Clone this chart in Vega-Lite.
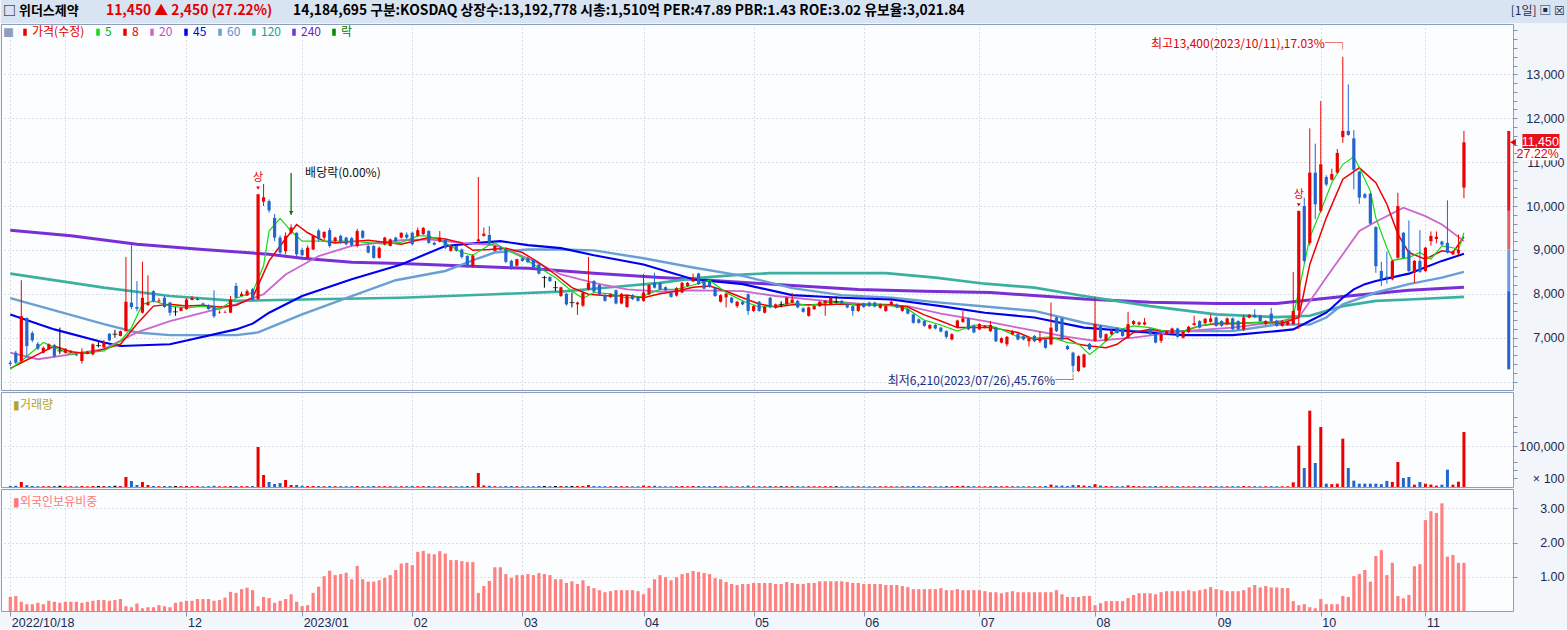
{
  "$schema": "https://vega.github.io/schema/vega-lite/v6.json",
  "padding": 0,
  "background": "#f2f5f9",
  "spacing": 0,
  "config": {
    "font": "Noto Sans CJK KR",
    "view": {"stroke": "#8c9ebb", "fill": "#fcfdfe"},
    "axis": {"gridDash": [1, 3], "gridColor": "#b4bfcf", "gridWidth": 1, "tickColor": "#8093b0", "domain": false, "labelColor": "#1d2b52", "labelFont": "Liberation Sans", "labelFontSize": 12.5},
    "axisY": {"tickSize": 4, "labelAlign": "right", "labelPadding": 47, "labelBaseline": "middle", "labelOverlap": false, "labelBound": false},
    "title": {"fontWeight": "normal"}
  },
  "datasets": {
    "px": [
      {"i":0,"o":6430,"h":6480,"l":6350,"c":6400,"d":"d","v":2500,"f":0.42},
      {"i":1,"o":6660,"h":6700,"l":6400,"c":6430,"d":"d","v":3000,"f":0.44},
      {"i":2,"o":6470,"h":8310,"l":6450,"c":7490,"d":"u","v":12300,"f":0.27},
      {"i":3,"o":7450,"h":7460,"l":6550,"c":6810,"d":"d","v":4500,"f":0.20},
      {"i":4,"o":7110,"h":7150,"l":6900,"c":6940,"d":"d","v":2500,"f":0.20},
      {"i":5,"o":6860,"h":6900,"l":6720,"c":6750,"d":"d","v":2000,"f":0.24},
      {"i":6,"o":6660,"h":6800,"l":6640,"c":6770,"d":"u","v":2000,"f":0.20},
      {"i":7,"o":6740,"h":6870,"l":6720,"c":6850,"d":"u","v":2000,"f":0.30},
      {"i":8,"o":6830,"h":6860,"l":6550,"c":6580,"d":"d","v":2500,"f":0.27},
      {"i":9,"o":6700,"h":7230,"l":6630,"c":6700,"d":"n","v":3000,"f":0.24},
      {"i":10,"o":6660,"h":6760,"l":6640,"c":6750,"d":"u","v":2000,"f":0.27},
      {"i":11,"o":6660,"h":6720,"l":6650,"c":6700,"d":"u","v":1800,"f":0.27},
      {"i":12,"o":6620,"h":6640,"l":6580,"c":6600,"d":"d","v":1800,"f":0.27},
      {"i":13,"o":6470,"h":6760,"l":6410,"c":6680,"d":"u","v":2500,"f":0.24},
      {"i":14,"o":6650,"h":6700,"l":6640,"c":6680,"d":"u","v":1800,"f":0.27},
      {"i":15,"o":6620,"h":6870,"l":6600,"c":6850,"d":"u","v":2500,"f":0.30},
      {"i":16,"o":6820,"h":6900,"l":6780,"c":6820,"d":"n","v":2500,"f":0.32},
      {"i":17,"o":6780,"h":6950,"l":6770,"c":6890,"d":"u","v":2500,"f":0.32},
      {"i":18,"o":7090,"h":7100,"l":6920,"c":6940,"d":"d","v":2500,"f":0.30},
      {"i":19,"o":7080,"h":7180,"l":7000,"c":7080,"d":"n","v":3000,"f":0.32},
      {"i":20,"o":7040,"h":7160,"l":7030,"c":7150,"d":"u","v":2500,"f":0.35},
      {"i":21,"o":7150,"h":8840,"l":7140,"c":7820,"d":"u","v":24600,"f":0.14},
      {"i":22,"o":7800,"h":9110,"l":7650,"c":7700,"d":"d","v":14700,"f":0.11},
      {"i":23,"o":7700,"h":8290,"l":7600,"c":7660,"d":"d","v":4900,"f":0.22},
      {"i":24,"o":7570,"h":8730,"l":7550,"c":7910,"d":"u","v":12300,"f":0.08},
      {"i":25,"o":7740,"h":8420,"l":7730,"c":7800,"d":"u","v":4900,"f":0.11},
      {"i":26,"o":8060,"h":8080,"l":7800,"c":7830,"d":"d","v":2500,"f":0.11},
      {"i":27,"o":7830,"h":7900,"l":7800,"c":7850,"d":"u","v":2000,"f":0.17},
      {"i":28,"o":7910,"h":7950,"l":7680,"c":7700,"d":"d","v":2500,"f":0.14},
      {"i":29,"o":7800,"h":7820,"l":7500,"c":7570,"d":"d","v":2500,"f":0.11},
      {"i":30,"o":7590,"h":7700,"l":7500,"c":7590,"d":"n","v":2500,"f":0.24},
      {"i":31,"o":7610,"h":7700,"l":7600,"c":7680,"d":"u","v":2000,"f":0.27},
      {"i":32,"o":7650,"h":7900,"l":7640,"c":7870,"d":"u","v":2500,"f":0.30},
      {"i":33,"o":7860,"h":7950,"l":7850,"c":7900,"d":"u","v":2000,"f":0.30},
      {"i":34,"o":7860,"h":7920,"l":7850,"c":7880,"d":"u","v":2000,"f":0.35},
      {"i":35,"o":7780,"h":7800,"l":7740,"c":7750,"d":"d","v":1800,"f":0.35},
      {"i":36,"o":7730,"h":7760,"l":7640,"c":7650,"d":"d","v":2000,"f":0.35},
      {"i":37,"o":7720,"h":8080,"l":7450,"c":7490,"d":"d","v":3000,"f":0.30},
      {"i":38,"o":7570,"h":7620,"l":7550,"c":7580,"d":"u","v":1800,"f":0.32},
      {"i":39,"o":7570,"h":7620,"l":7560,"c":7580,"d":"u","v":1800,"f":0.39},
      {"i":40,"o":7570,"h":7950,"l":7560,"c":7870,"d":"u","v":2500,"f":0.56},
      {"i":41,"o":8180,"h":8250,"l":7900,"c":7910,"d":"d","v":2500,"f":0.53},
      {"i":42,"o":7950,"h":8050,"l":7940,"c":8000,"d":"u","v":2000,"f":0.64},
      {"i":43,"o":7960,"h":8100,"l":7950,"c":8060,"d":"u","v":2000,"f":0.68},
      {"i":44,"o":8100,"h":8130,"l":7850,"c":7870,"d":"d","v":2500,"f":0.61},
      {"i":45,"o":7880,"h":10270,"l":7860,"c":10270,"d":"u","v":98300,"f":0.14},
      {"i":46,"o":10100,"h":10500,"l":10000,"c":10200,"d":"u","v":29500,"f":0.41},
      {"i":47,"o":10110,"h":10150,"l":9850,"c":9900,"d":"d","v":12300,"f":0.38},
      {"i":48,"o":9730,"h":9820,"l":9200,"c":9280,"d":"d","v":7400,"f":0.24},
      {"i":49,"o":9280,"h":9330,"l":8900,"c":8940,"d":"d","v":9800,"f":0.30},
      {"i":50,"o":8970,"h":9400,"l":8900,"c":9320,"d":"u","v":17200,"f":0.35},
      {"i":51,"o":9390,"h":9580,"l":9350,"c":9510,"d":"u","v":4900,"f":0.49},
      {"i":52,"o":9390,"h":9400,"l":8850,"c":8900,"d":"d","v":4900,"f":0.27},
      {"i":53,"o":9000,"h":9050,"l":8850,"c":8880,"d":"d","v":3000,"f":0.14},
      {"i":54,"o":8820,"h":9100,"l":8800,"c":9050,"d":"u","v":2500,"f":0.17},
      {"i":55,"o":9010,"h":9330,"l":9000,"c":9320,"d":"u","v":2500,"f":0.53},
      {"i":56,"o":9440,"h":9480,"l":9200,"c":9240,"d":"d","v":2500,"f":0.71},
      {"i":57,"o":9280,"h":9420,"l":9220,"c":9410,"d":"u","v":2000,"f":1.02},
      {"i":58,"o":9450,"h":9500,"l":9050,"c":9090,"d":"d","v":2500,"f":1.18},
      {"i":59,"o":9200,"h":9300,"l":9150,"c":9280,"d":"u","v":2000,"f":1.05},
      {"i":60,"o":9320,"h":9350,"l":9140,"c":9160,"d":"d","v":2000,"f":1.08},
      {"i":61,"o":9280,"h":9300,"l":9100,"c":9130,"d":"d","v":2000,"f":1.12},
      {"i":62,"o":9270,"h":9290,"l":9080,"c":9110,"d":"d","v":2000,"f":0.93},
      {"i":63,"o":9090,"h":9480,"l":9060,"c":9430,"d":"u","v":2500,"f":1.32},
      {"i":64,"o":9430,"h":9460,"l":9250,"c":9280,"d":"d","v":2000,"f":0.93},
      {"i":65,"o":9090,"h":9120,"l":8920,"c":8940,"d":"d","v":2000,"f":0.86},
      {"i":66,"o":9090,"h":9110,"l":8800,"c":8820,"d":"d","v":2500,"f":0.86},
      {"i":67,"o":8820,"h":9080,"l":8800,"c":9050,"d":"u","v":2000,"f":0.90},
      {"i":68,"o":9130,"h":9300,"l":9100,"c":9280,"d":"u","v":2000,"f":0.97},
      {"i":69,"o":9090,"h":9260,"l":9080,"c":9240,"d":"u","v":2000,"f":1.05},
      {"i":70,"o":9280,"h":9300,"l":9180,"c":9200,"d":"d","v":1800,"f":1.20},
      {"i":71,"o":9280,"h":9400,"l":9260,"c":9390,"d":"u","v":2000,"f":1.39},
      {"i":72,"o":9350,"h":9400,"l":9250,"c":9280,"d":"d","v":2000,"f":1.41},
      {"i":73,"o":9390,"h":9420,"l":9100,"c":9130,"d":"d","v":2500,"f":1.34},
      {"i":74,"o":9320,"h":9510,"l":9300,"c":9450,"d":"u","v":2000,"f":1.73},
      {"i":75,"o":9360,"h":9520,"l":9340,"c":9500,"d":"u","v":2000,"f":1.76},
      {"i":76,"o":9430,"h":9450,"l":9140,"c":9160,"d":"d","v":2500,"f":1.68},
      {"i":77,"o":9160,"h":9190,"l":9100,"c":9120,"d":"d","v":1800,"f":1.66},
      {"i":78,"o":9190,"h":9430,"l":9170,"c":9280,"d":"u","v":2000,"f":1.75},
      {"i":79,"o":9230,"h":9260,"l":9020,"c":9050,"d":"d","v":2000,"f":1.68},
      {"i":80,"o":8980,"h":9110,"l":8960,"c":9090,"d":"u","v":1800,"f":1.49},
      {"i":81,"o":9090,"h":9100,"l":8960,"c":8980,"d":"d","v":1800,"f":1.49},
      {"i":82,"o":9010,"h":9030,"l":8800,"c":8840,"d":"d","v":2000,"f":1.46},
      {"i":83,"o":8860,"h":8880,"l":8600,"c":8630,"d":"d","v":2500,"f":1.43},
      {"i":84,"o":8630,"h":8900,"l":8600,"c":8870,"d":"u","v":2500,"f":1.43},
      {"i":85,"o":9200,"h":10660,"l":9150,"c":9240,"d":"u","v":34400,"f":0.53},
      {"i":86,"o":9320,"h":9510,"l":9300,"c":9370,"d":"u","v":4000,"f":0.73},
      {"i":87,"o":9340,"h":9540,"l":9120,"c":9140,"d":"d","v":3000,"f":0.88},
      {"i":88,"o":8980,"h":9100,"l":8960,"c":9090,"d":"u","v":2000,"f":1.28},
      {"i":89,"o":9050,"h":9080,"l":8980,"c":9000,"d":"d","v":1800,"f":1.28},
      {"i":90,"o":9010,"h":9050,"l":8700,"c":8730,"d":"d","v":2500,"f":1.08},
      {"i":91,"o":8750,"h":8780,"l":8550,"c":8600,"d":"d","v":2500,"f":0.97},
      {"i":92,"o":8640,"h":8800,"l":8620,"c":8790,"d":"u","v":2000,"f":1.05},
      {"i":93,"o":8810,"h":8830,"l":8730,"c":8750,"d":"d","v":1800,"f":1.05},
      {"i":94,"o":8810,"h":8840,"l":8700,"c":8720,"d":"d","v":1800,"f":1.08},
      {"i":95,"o":8780,"h":8800,"l":8580,"c":8600,"d":"d","v":2000,"f":1.05},
      {"i":96,"o":8670,"h":8690,"l":8440,"c":8460,"d":"d","v":2500,"f":1.11},
      {"i":97,"o":8370,"h":8410,"l":8140,"c":8370,"d":"n","v":2500,"f":1.08},
      {"i":98,"o":8380,"h":8400,"l":8270,"c":8290,"d":"d","v":2000,"f":1.05},
      {"i":99,"o":8140,"h":8290,"l":8060,"c":8140,"d":"n","v":2500,"f":0.93},
      {"i":100,"o":7950,"h":8160,"l":7930,"c":8150,"d":"u","v":2500,"f":0.93},
      {"i":101,"o":8000,"h":8020,"l":7730,"c":7760,"d":"d","v":2500,"f":0.82},
      {"i":102,"o":7800,"h":8030,"l":7690,"c":7800,"d":"n","v":2500,"f":0.87},
      {"i":103,"o":7760,"h":7820,"l":7520,"c":7800,"d":"u","v":2500,"f":0.79},
      {"i":104,"o":7730,"h":8050,"l":7700,"c":8030,"d":"u","v":2500,"f":0.90},
      {"i":105,"o":8100,"h":8840,"l":8080,"c":8250,"d":"u","v":5000,"f":0.73},
      {"i":106,"o":8290,"h":8310,"l":8030,"c":8050,"d":"d","v":2500,"f":0.67},
      {"i":107,"o":8200,"h":8220,"l":7970,"c":7990,"d":"d","v":2000,"f":0.61},
      {"i":108,"o":7970,"h":7990,"l":7820,"c":7840,"d":"d","v":2000,"f":0.55},
      {"i":109,"o":7930,"h":8010,"l":7910,"c":7990,"d":"u","v":1800,"f":0.58},
      {"i":110,"o":8080,"h":8100,"l":7760,"c":7780,"d":"d","v":2500,"f":0.61},
      {"i":111,"o":7780,"h":8020,"l":7760,"c":8000,"d":"u","v":2000,"f":0.61},
      {"i":112,"o":7700,"h":7990,"l":7680,"c":7970,"d":"u","v":2000,"f":0.61},
      {"i":113,"o":7970,"h":7990,"l":7860,"c":7880,"d":"d","v":1800,"f":0.61},
      {"i":114,"o":7930,"h":7950,"l":7820,"c":7840,"d":"d","v":1800,"f":0.58},
      {"i":115,"o":7840,"h":8450,"l":7820,"c":8030,"d":"u","v":3500,"f":0.49},
      {"i":116,"o":7990,"h":8220,"l":7970,"c":8200,"d":"u","v":2500,"f":0.67},
      {"i":117,"o":8250,"h":8480,"l":8120,"c":8140,"d":"d","v":3000,"f":0.93},
      {"i":118,"o":8250,"h":8270,"l":8080,"c":8100,"d":"d","v":2000,"f":1.05},
      {"i":119,"o":8150,"h":8170,"l":8060,"c":8080,"d":"d","v":1800,"f":0.99},
      {"i":120,"o":8030,"h":8050,"l":7910,"c":7930,"d":"d","v":1800,"f":0.90},
      {"i":121,"o":7960,"h":8150,"l":7940,"c":8130,"d":"u","v":2000,"f":0.99},
      {"i":122,"o":8030,"h":8270,"l":8010,"c":8250,"d":"u","v":2500,"f":1.08},
      {"i":123,"o":8180,"h":8270,"l":8160,"c":8250,"d":"u","v":1800,"f":1.11},
      {"i":124,"o":8280,"h":8460,"l":8270,"c":8370,"d":"u","v":2500,"f":1.17},
      {"i":125,"o":8460,"h":8480,"l":8200,"c":8220,"d":"d","v":2500,"f":1.14},
      {"i":126,"o":8290,"h":8310,"l":8100,"c":8120,"d":"d","v":2000,"f":1.11},
      {"i":127,"o":8290,"h":8310,"l":8140,"c":8160,"d":"d","v":2000,"f":1.08},
      {"i":128,"o":8140,"h":8160,"l":7930,"c":7950,"d":"d","v":2500,"f":0.96},
      {"i":129,"o":7820,"h":7990,"l":7800,"c":7970,"d":"u","v":2000,"f":0.93},
      {"i":130,"o":7920,"h":8020,"l":7690,"c":8000,"d":"u","v":2000,"f":0.85},
      {"i":131,"o":7910,"h":7930,"l":7780,"c":7800,"d":"d","v":1800,"f":0.79},
      {"i":132,"o":7720,"h":7840,"l":7680,"c":7820,"d":"u","v":1800,"f":0.76},
      {"i":133,"o":7820,"h":7840,"l":7740,"c":7760,"d":"d","v":1800,"f":0.79},
      {"i":134,"o":7990,"h":8010,"l":7520,"c":7610,"d":"d","v":3500,"f":0.79},
      {"i":135,"o":7610,"h":7740,"l":7590,"c":7720,"d":"u","v":2000,"f":0.82},
      {"i":136,"o":7820,"h":7840,"l":7590,"c":7610,"d":"d","v":2000,"f":0.82},
      {"i":137,"o":7570,"h":7720,"l":7550,"c":7700,"d":"u","v":1800,"f":0.82},
      {"i":138,"o":7910,"h":7930,"l":7670,"c":7690,"d":"d","v":2500,"f":0.82},
      {"i":139,"o":7680,"h":7780,"l":7660,"c":7760,"d":"u","v":1800,"f":0.79},
      {"i":140,"o":7760,"h":7830,"l":7690,"c":7760,"d":"n","v":1800,"f":0.79},
      {"i":141,"o":7760,"h":7930,"l":7740,"c":7910,"d":"u","v":2000,"f":0.85},
      {"i":142,"o":7800,"h":8020,"l":7780,"c":7870,"d":"u","v":2000,"f":0.82},
      {"i":143,"o":7840,"h":7860,"l":7670,"c":7690,"d":"d","v":2000,"f":0.79},
      {"i":144,"o":7670,"h":7690,"l":7570,"c":7590,"d":"d","v":1800,"f":0.79},
      {"i":145,"o":7500,"h":7710,"l":7480,"c":7690,"d":"u","v":2000,"f":0.82},
      {"i":146,"o":7650,"h":7740,"l":7630,"c":7720,"d":"u","v":1800,"f":0.82},
      {"i":147,"o":7720,"h":7840,"l":7700,"c":7820,"d":"u","v":1800,"f":0.87},
      {"i":148,"o":7780,"h":7860,"l":7500,"c":7840,"d":"u","v":2000,"f":0.87},
      {"i":149,"o":7760,"h":7930,"l":7740,"c":7910,"d":"u","v":2000,"f":0.87},
      {"i":150,"o":7820,"h":7940,"l":7780,"c":7820,"d":"n","v":1800,"f":0.87},
      {"i":151,"o":7840,"h":7860,"l":7760,"c":7780,"d":"d","v":1800,"f":0.87},
      {"i":152,"o":7760,"h":7780,"l":7670,"c":7690,"d":"d","v":1800,"f":0.85},
      {"i":153,"o":7720,"h":7740,"l":7500,"c":7610,"d":"d","v":2000,"f":0.82},
      {"i":154,"o":7610,"h":7780,"l":7590,"c":7760,"d":"u","v":1800,"f":0.82},
      {"i":155,"o":7780,"h":7800,"l":7680,"c":7700,"d":"d","v":1800,"f":0.79},
      {"i":156,"o":7800,"h":7820,"l":7700,"c":7720,"d":"d","v":1800,"f":0.79},
      {"i":157,"o":7800,"h":7820,"l":7690,"c":7710,"d":"d","v":1800,"f":0.79},
      {"i":158,"o":7680,"h":7780,"l":7660,"c":7760,"d":"u","v":1800,"f":0.79},
      {"i":159,"o":7610,"h":7740,"l":7590,"c":7720,"d":"u","v":1800,"f":0.76},
      {"i":160,"o":7750,"h":7860,"l":7730,"c":7820,"d":"u","v":1800,"f":0.76},
      {"i":161,"o":7760,"h":7780,"l":7670,"c":7690,"d":"d","v":1800,"f":0.76},
      {"i":162,"o":7610,"h":7740,"l":7590,"c":7720,"d":"u","v":1800,"f":0.73},
      {"i":163,"o":7650,"h":7670,"l":7530,"c":7550,"d":"d","v":2000,"f":0.70},
      {"i":164,"o":7530,"h":7550,"l":7320,"c":7340,"d":"d","v":2500,"f":0.64},
      {"i":165,"o":7420,"h":7440,"l":7320,"c":7340,"d":"d","v":2000,"f":0.64},
      {"i":166,"o":7380,"h":7400,"l":7250,"c":7270,"d":"d","v":2000,"f":0.64},
      {"i":167,"o":7210,"h":7310,"l":7190,"c":7290,"d":"u","v":1800,"f":0.64},
      {"i":168,"o":7290,"h":7310,"l":7190,"c":7210,"d":"d","v":1800,"f":0.64},
      {"i":169,"o":7230,"h":7250,"l":7120,"c":7140,"d":"d","v":1800,"f":0.67},
      {"i":170,"o":7150,"h":7170,"l":6980,"c":7020,"d":"d","v":2500,"f":0.61},
      {"i":171,"o":6960,"h":7100,"l":6940,"c":7080,"d":"u","v":2000,"f":0.61},
      {"i":172,"o":7230,"h":7410,"l":7210,"c":7390,"d":"u","v":2500,"f":0.64},
      {"i":173,"o":7360,"h":7610,"l":7340,"c":7440,"d":"u","v":3000,"f":0.61},
      {"i":174,"o":7440,"h":7460,"l":7170,"c":7190,"d":"d","v":2500,"f":0.61},
      {"i":175,"o":7270,"h":7290,"l":7100,"c":7120,"d":"d","v":2000,"f":0.61},
      {"i":176,"o":7190,"h":7330,"l":7170,"c":7310,"d":"u","v":1800,"f":0.61},
      {"i":177,"o":7230,"h":7290,"l":7210,"c":7270,"d":"u","v":1800,"f":0.58},
      {"i":178,"o":7150,"h":7380,"l":7130,"c":7290,"d":"u","v":2000,"f":0.55},
      {"i":179,"o":7230,"h":7250,"l":6900,"c":6920,"d":"d","v":2500,"f":0.55},
      {"i":180,"o":6890,"h":7010,"l":6870,"c":6990,"d":"u","v":1800,"f":0.52},
      {"i":181,"o":6850,"h":7040,"l":6800,"c":7020,"d":"u","v":2000,"f":0.55},
      {"i":182,"o":7080,"h":7170,"l":7060,"c":7150,"d":"u","v":1800,"f":0.58},
      {"i":183,"o":7090,"h":7110,"l":6940,"c":6960,"d":"d","v":2000,"f":0.55},
      {"i":184,"o":7030,"h":7050,"l":6940,"c":6960,"d":"d","v":1800,"f":0.55},
      {"i":185,"o":6920,"h":7010,"l":6800,"c":6990,"d":"u","v":1800,"f":0.55},
      {"i":186,"o":7040,"h":7060,"l":6900,"c":6920,"d":"d","v":1800,"f":0.55},
      {"i":187,"o":6920,"h":7150,"l":6880,"c":6990,"d":"u","v":1800,"f":0.55},
      {"i":188,"o":6960,"h":6980,"l":6750,"c":6770,"d":"d","v":2500,"f":0.55},
      {"i":189,"o":6850,"h":7800,"l":6830,"c":7230,"d":"u","v":6000,"f":0.55},
      {"i":190,"o":7460,"h":7480,"l":7130,"c":7150,"d":"d","v":3500,"f":0.61},
      {"i":191,"o":7440,"h":7460,"l":6940,"c":6960,"d":"d","v":3500,"f":0.49},
      {"i":192,"o":6810,"h":6830,"l":6720,"c":6740,"d":"d","v":2500,"f":0.41},
      {"i":193,"o":6660,"h":6680,"l":6210,"c":6360,"d":"d","v":5000,"f":0.41},
      {"i":194,"o":6240,"h":6600,"l":6220,"c":6580,"d":"u","v":4500,"f":0.41},
      {"i":195,"o":6330,"h":6640,"l":6310,"c":6620,"d":"u","v":3500,"f":0.44},
      {"i":196,"o":6860,"h":6880,"l":6720,"c":6740,"d":"d","v":2500,"f":0.44},
      {"i":197,"o":6930,"h":7930,"l":6910,"c":7310,"d":"u","v":7000,"f":0.17},
      {"i":198,"o":7270,"h":7290,"l":6980,"c":7000,"d":"d","v":3500,"f":0.23},
      {"i":199,"o":6930,"h":7100,"l":6910,"c":7080,"d":"u","v":2500,"f":0.29},
      {"i":200,"o":7080,"h":7200,"l":7060,"c":7150,"d":"u","v":2000,"f":0.29},
      {"i":201,"o":7220,"h":7240,"l":7090,"c":7110,"d":"d","v":2000,"f":0.29},
      {"i":202,"o":7180,"h":7200,"l":7020,"c":7040,"d":"d","v":2000,"f":0.29},
      {"i":203,"o":7000,"h":7590,"l":6980,"c":7310,"d":"u","v":4000,"f":0.38},
      {"i":204,"o":7310,"h":7400,"l":7290,"c":7380,"d":"u","v":2500,"f":0.47},
      {"i":205,"o":7300,"h":7370,"l":7280,"c":7350,"d":"u","v":2000,"f":0.52},
      {"i":206,"o":7300,"h":7450,"l":7280,"c":7350,"d":"u","v":2000,"f":0.52},
      {"i":207,"o":7200,"h":7220,"l":7060,"c":7080,"d":"d","v":2000,"f":0.52},
      {"i":208,"o":7090,"h":7110,"l":6870,"c":6890,"d":"d","v":2500,"f":0.49},
      {"i":209,"o":6930,"h":7100,"l":6880,"c":7080,"d":"u","v":2000,"f":0.55},
      {"i":210,"o":7080,"h":7170,"l":7060,"c":7150,"d":"u","v":1800,"f":0.58},
      {"i":211,"o":7100,"h":7230,"l":7080,"c":7210,"d":"u","v":1800,"f":0.58},
      {"i":212,"o":7210,"h":7230,"l":7000,"c":7020,"d":"d","v":2000,"f":0.58},
      {"i":213,"o":7000,"h":7150,"l":6980,"c":7130,"d":"u","v":1800,"f":0.58},
      {"i":214,"o":7130,"h":7270,"l":7110,"c":7250,"d":"u","v":1800,"f":0.61},
      {"i":215,"o":7290,"h":7500,"l":7270,"c":7330,"d":"u","v":2000,"f":0.58},
      {"i":216,"o":7380,"h":7400,"l":7210,"c":7230,"d":"d","v":2000,"f":0.61},
      {"i":217,"o":7330,"h":7450,"l":7310,"c":7430,"d":"u","v":1800,"f":0.64},
      {"i":218,"o":7360,"h":7530,"l":7340,"c":7440,"d":"u","v":2000,"f":0.70},
      {"i":219,"o":7460,"h":7480,"l":7250,"c":7270,"d":"d","v":2000,"f":0.64},
      {"i":220,"o":7380,"h":7400,"l":7250,"c":7270,"d":"d","v":1800,"f":0.61},
      {"i":221,"o":7310,"h":7460,"l":7290,"c":7440,"d":"u","v":1800,"f":0.58},
      {"i":222,"o":7440,"h":7460,"l":7170,"c":7190,"d":"d","v":2000,"f":0.58},
      {"i":223,"o":7380,"h":7400,"l":7170,"c":7190,"d":"d","v":2000,"f":0.58},
      {"i":224,"o":7190,"h":7520,"l":7150,"c":7460,"d":"u","v":2500,"f":0.61},
      {"i":225,"o":7460,"h":7540,"l":7440,"c":7520,"d":"u","v":1800,"f":0.69},
      {"i":226,"o":7520,"h":7650,"l":7450,"c":7470,"d":"d","v":2000,"f":0.76},
      {"i":227,"o":7500,"h":7520,"l":7360,"c":7380,"d":"d","v":1800,"f":0.69},
      {"i":228,"o":7310,"h":7400,"l":7290,"c":7380,"d":"u","v":1800,"f":0.73},
      {"i":229,"o":7550,"h":7680,"l":7360,"c":7380,"d":"d","v":2000,"f":0.69},
      {"i":230,"o":7390,"h":7410,"l":7250,"c":7270,"d":"d","v":1800,"f":0.69},
      {"i":231,"o":7270,"h":7400,"l":7250,"c":7380,"d":"u","v":1800,"f":0.67},
      {"i":232,"o":7290,"h":7380,"l":7270,"c":7360,"d":"u","v":1800,"f":0.67},
      {"i":233,"o":7310,"h":8500,"l":7290,"c":7610,"d":"u","v":11500,"f":0.29},
      {"i":234,"o":7620,"h":9890,"l":7200,"c":9890,"d":"u","v":101500,"f":0.17},
      {"i":235,"o":10000,"h":10190,"l":8700,"c":8750,"d":"d","v":46700,"f":0.20},
      {"i":236,"o":9160,"h":11770,"l":9100,"c":10760,"d":"u","v":187500,"f":0.11},
      {"i":237,"o":10760,"h":11420,"l":9700,"c":10040,"d":"d","v":59000,"f":0.08},
      {"i":238,"o":9890,"h":12390,"l":9850,"c":10950,"d":"u","v":147400,"f":0.35},
      {"i":239,"o":10660,"h":10700,"l":10450,"c":10490,"d":"d","v":8200,"f":0.20},
      {"i":240,"o":10600,"h":10850,"l":10580,"c":10730,"d":"u","v":7000,"f":0.20},
      {"i":241,"o":10760,"h":11300,"l":10740,"c":11210,"d":"u","v":8200,"f":0.20},
      {"i":242,"o":11570,"h":13400,"l":11440,"c":11710,"d":"u","v":118700,"f":0.44},
      {"i":243,"o":11710,"h":12770,"l":11600,"c":11620,"d":"d","v":46700,"f":0.41},
      {"i":244,"o":11540,"h":11730,"l":10380,"c":10830,"d":"d","v":15600,"f":1.02},
      {"i":245,"o":10780,"h":10800,"l":10050,"c":10190,"d":"d","v":8200,"f":1.08},
      {"i":246,"o":10270,"h":10300,"l":10170,"c":10190,"d":"d","v":8200,"f":1.20},
      {"i":247,"o":10280,"h":10300,"l":9580,"c":9600,"d":"d","v":8200,"f":0.86},
      {"i":248,"o":9520,"h":9540,"l":8480,"c":8630,"d":"d","v":8200,"f":1.61},
      {"i":249,"o":8520,"h":8730,"l":8180,"c":8330,"d":"d","v":7000,"f":1.78},
      {"i":250,"o":8390,"h":8960,"l":8230,"c":8360,"d":"d","v":15000,"f":1.05},
      {"i":251,"o":8330,"h":8770,"l":8310,"c":8750,"d":"u","v":12300,"f":1.41},
      {"i":252,"o":8820,"h":10300,"l":8800,"c":10000,"d":"u","v":61400,"f":0.44},
      {"i":253,"o":9390,"h":9410,"l":8800,"c":8820,"d":"d","v":22100,"f":0.37},
      {"i":254,"o":8990,"h":9670,"l":8500,"c":8520,"d":"d","v":24600,"f":0.47},
      {"i":255,"o":8480,"h":8770,"l":8250,"c":8750,"d":"u","v":5700,"f":1.31},
      {"i":256,"o":8750,"h":9450,"l":8480,"c":8500,"d":"d","v":12300,"f":1.37},
      {"i":257,"o":8520,"h":9070,"l":8500,"c":9050,"d":"u","v":8200,"f":2.66},
      {"i":258,"o":9200,"h":9420,"l":9100,"c":9320,"d":"u","v":6000,"f":2.92},
      {"i":259,"o":9250,"h":9420,"l":9150,"c":9300,"d":"u","v":3300,"f":2.87},
      {"i":260,"o":9190,"h":9210,"l":9100,"c":9120,"d":"d","v":5700,"f":3.15},
      {"i":261,"o":9160,"h":10130,"l":8920,"c":8940,"d":"d","v":42600,"f":1.59},
      {"i":262,"o":8900,"h":8980,"l":8880,"c":8960,"d":"u","v":5700,"f":1.64},
      {"i":263,"o":8920,"h":9350,"l":8880,"c":9000,"d":"u","v":13100,"f":1.41},
      {"i":264,"o":10420,"h":11710,"l":10180,"c":11450,"d":"u","v":135000,"f":1.41}
    ],
    "ma": [
      {"i":0,"m":"240","p":9450},{"i":11,"m":"240","p":9320},{"i":23,"m":"240","p":9130},{"i":35,"m":"240","p":9010},{"i":47,"m":"240","p":8900},{"i":53,"m":"240","p":8810},{"i":62,"m":"240","p":8720},{"i":71,"m":"240","p":8690},{"i":85,"m":"240","p":8620},{"i":94,"m":"240","p":8580},{"i":106,"m":"240","p":8470},{"i":118,"m":"240","p":8370},{"i":124,"m":"240","p":8330},{"i":142,"m":"240","p":8190},{"i":154,"m":"240","p":8100},{"i":166,"m":"240","p":8060},{"i":178,"m":"240","p":8030},{"i":195,"m":"240","p":7880},{"i":207,"m":"240","p":7810},{"i":219,"m":"240","p":7780},{"i":230,"m":"240","p":7780},{"i":242,"m":"240","p":7940},{"i":254,"m":"240","p":8080},{"i":264,"m":"240","p":8150},
      {"i":0,"m":"120","p":8460},{"i":17,"m":"120","p":8140},{"i":29,"m":"120","p":7950},{"i":41,"m":"120","p":7840},{"i":53,"m":"120","p":7870},{"i":71,"m":"120","p":7910},{"i":88,"m":"120","p":7990},{"i":100,"m":"120","p":8050},{"i":109,"m":"120","p":8150},{"i":118,"m":"120","p":8250},{"i":124,"m":"120","p":8350},{"i":132,"m":"120","p":8430},{"i":138,"m":"120","p":8470},{"i":159,"m":"120","p":8470},{"i":168,"m":"120","p":8370},{"i":177,"m":"120","p":8230},{"i":186,"m":"120","p":8140},{"i":195,"m":"120","p":7950},{"i":207,"m":"120","p":7720},{"i":219,"m":"120","p":7530},{"i":230,"m":"120","p":7470},{"i":236,"m":"120","p":7500},{"i":242,"m":"120","p":7720},{"i":248,"m":"120","p":7840},{"i":254,"m":"120","p":7870},{"i":264,"m":"120","p":7930},
      {"i":0,"m":"60","p":7900},{"i":17,"m":"60","p":7310},{"i":23,"m":"60","p":7120},{"i":29,"m":"60","p":7060},{"i":41,"m":"60","p":7060},{"i":45,"m":"60","p":7120},{"i":53,"m":"60","p":7530},{"i":62,"m":"60","p":7950},{"i":70,"m":"60","p":8310},{"i":79,"m":"60","p":8520},{"i":85,"m":"60","p":8810},{"i":88,"m":"60","p":8940},{"i":94,"m":"60","p":9010},{"i":100,"m":"60","p":9010},{"i":106,"m":"60","p":8990},{"i":115,"m":"60","p":8810},{"i":124,"m":"60","p":8600},{"i":133,"m":"60","p":8410},{"i":142,"m":"60","p":8130},{"i":151,"m":"60","p":7970},{"i":160,"m":"60","p":7910},{"i":169,"m":"60","p":7800},{"i":177,"m":"60","p":7710},{"i":186,"m":"60","p":7610},{"i":195,"m":"60","p":7340},{"i":204,"m":"60","p":7150},{"i":213,"m":"60","p":7150},{"i":222,"m":"60","p":7150},{"i":230,"m":"60","p":7300},{"i":236,"m":"60","p":7300},{"i":239,"m":"60","p":7460},{"i":242,"m":"60","p":7760},{"i":248,"m":"60","p":8030},{"i":254,"m":"60","p":8220},{"i":260,"m":"60","p":8370},{"i":264,"m":"60","p":8500},
      {"i":0,"m":"45","p":7530},{"i":8,"m":"45","p":7190},{"i":17,"m":"45","p":6890},{"i":20,"m":"45","p":6810},{"i":29,"m":"45","p":6850},{"i":41,"m":"45","p":7190},{"i":44,"m":"45","p":7320},{"i":47,"m":"45","p":7570},{"i":53,"m":"45","p":7950},{"i":62,"m":"45","p":8330},{"i":71,"m":"45","p":8670},{"i":79,"m":"45","p":9090},{"i":85,"m":"45","p":9160},{"i":89,"m":"45","p":9200},{"i":94,"m":"45","p":9110},{"i":100,"m":"45","p":9040},{"i":106,"m":"45","p":8880},{"i":115,"m":"45","p":8670},{"i":124,"m":"45","p":8330},{"i":133,"m":"45","p":8220},{"i":142,"m":"45","p":7970},{"i":151,"m":"45","p":7910},{"i":160,"m":"45","p":7870},{"i":169,"m":"45","p":7720},{"i":177,"m":"45","p":7570},{"i":186,"m":"45","p":7460},{"i":195,"m":"45","p":7230},{"i":204,"m":"45","p":7140},{"i":213,"m":"45","p":7060},{"i":222,"m":"45","p":7060},{"i":230,"m":"45","p":7150},{"i":233,"m":"45","p":7190},{"i":236,"m":"45","p":7380},{"i":239,"m":"45","p":7570},{"i":242,"m":"45","p":7910},{"i":244,"m":"45","p":8100},{"i":246,"m":"45","p":8220},{"i":248,"m":"45","p":8290},{"i":254,"m":"45","p":8460},{"i":260,"m":"45","p":8750},{"i":264,"m":"45","p":8910},
      {"i":0,"m":"20","p":6660},{"i":5,"m":"20","p":6510},{"i":11,"m":"20","p":6620},{"i":17,"m":"20","p":6740},{"i":23,"m":"20","p":7120},{"i":29,"m":"20","p":7380},{"i":35,"m":"20","p":7570},{"i":41,"m":"20","p":7760},{"i":46,"m":"20","p":7990},{"i":50,"m":"20","p":8440},{"i":56,"m":"20","p":8860},{"i":62,"m":"20","p":9090},{"i":71,"m":"20","p":9220},{"i":76,"m":"20","p":9240},{"i":82,"m":"20","p":9160},{"i":88,"m":"20","p":9110},{"i":94,"m":"20","p":8810},{"i":100,"m":"20","p":8440},{"i":106,"m":"20","p":8250},{"i":112,"m":"20","p":8100},{"i":118,"m":"20","p":8050},{"i":124,"m":"20","p":8080},{"i":133,"m":"20","p":8060},{"i":139,"m":"20","p":7950},{"i":148,"m":"20","p":7840},{"i":157,"m":"20","p":7750},{"i":163,"m":"20","p":7720},{"i":169,"m":"20","p":7550},{"i":177,"m":"20","p":7380},{"i":183,"m":"20","p":7230},{"i":192,"m":"20","p":7020},{"i":197,"m":"20","p":6930},{"i":204,"m":"20","p":7000},{"i":213,"m":"20","p":7150},{"i":222,"m":"20","p":7230},{"i":230,"m":"20","p":7360},{"i":234,"m":"20","p":7460},{"i":239,"m":"20","p":8370},{"i":245,"m":"20","p":9430},{"i":248,"m":"20","p":9640},{"i":253,"m":"20","p":9960},{"i":257,"m":"20","p":9770},{"i":260,"m":"20","p":9580},{"i":264,"m":"20","p":9200},
      {"i":0,"m":"8","p":6300},{"i":2,"m":"8","p":6430},{"i":5,"m":"8","p":6620},{"i":8,"m":"8","p":6810},{"i":11,"m":"8","p":6680},{"i":14,"m":"8","p":6640},{"i":17,"m":"8","p":6740},{"i":20,"m":"8","p":6850},{"i":23,"m":"8","p":7310},{"i":26,"m":"8","p":7720},{"i":29,"m":"8","p":7760},{"i":32,"m":"8","p":7720},{"i":35,"m":"8","p":7740},{"i":38,"m":"8","p":7700},{"i":41,"m":"8","p":7740},{"i":44,"m":"8","p":7910},{"i":47,"m":"8","p":8750},{"i":49,"m":"8","p":9090},{"i":52,"m":"8","p":9580},{"i":54,"m":"8","p":9390},{"i":57,"m":"8","p":9200},{"i":59,"m":"8","p":9160},{"i":65,"m":"8","p":9220},{"i":71,"m":"8","p":9130},{"i":76,"m":"8","p":9280},{"i":79,"m":"8","p":9250},{"i":82,"m":"8","p":9160},{"i":84,"m":"8","p":8990},{"i":87,"m":"8","p":9010},{"i":90,"m":"8","p":9040},{"i":93,"m":"8","p":8940},{"i":96,"m":"8","p":8710},{"i":99,"m":"8","p":8440},{"i":102,"m":"8","p":8140},{"i":105,"m":"8","p":7990},{"i":109,"m":"8","p":7950},{"i":112,"m":"8","p":7970},{"i":115,"m":"8","p":7910},{"i":118,"m":"8","p":8000},{"i":121,"m":"8","p":8060},{"i":124,"m":"8","p":8150},{"i":127,"m":"8","p":8180},{"i":130,"m":"8","p":8060},{"i":133,"m":"8","p":7910},{"i":136,"m":"8","p":7770},{"i":139,"m":"8","p":7700},{"i":142,"m":"8","p":7750},{"i":145,"m":"8","p":7750},{"i":148,"m":"8","p":7750},{"i":151,"m":"8","p":7770},{"i":154,"m":"8","p":7750},{"i":157,"m":"8","p":7760},{"i":160,"m":"8","p":7750},{"i":163,"m":"8","p":7700},{"i":166,"m":"8","p":7520},{"i":169,"m":"8","p":7380},{"i":172,"m":"8","p":7230},{"i":175,"m":"8","p":7230},{"i":178,"m":"8","p":7230},{"i":180,"m":"8","p":7190},{"i":183,"m":"8","p":7120},{"i":186,"m":"8","p":6960},{"i":189,"m":"8","p":6990},{"i":192,"m":"8","p":6980},{"i":194,"m":"8","p":6850},{"i":196,"m":"8","p":6810},{"i":199,"m":"8","p":6770},{"i":201,"m":"8","p":6850},{"i":204,"m":"8","p":7120},{"i":207,"m":"8","p":7190},{"i":210,"m":"8","p":7140},{"i":213,"m":"8","p":7150},{"i":216,"m":"8","p":7270},{"i":219,"m":"8","p":7320},{"i":222,"m":"8","p":7320},{"i":225,"m":"8","p":7340},{"i":228,"m":"8","p":7350},{"i":231,"m":"8","p":7330},{"i":234,"m":"8","p":7460},{"i":236,"m":"8","p":8670},{"i":239,"m":"8","p":9730},{"i":242,"m":"8","p":10610},{"i":245,"m":"8","p":10870},{"i":248,"m":"8","p":10530},{"i":250,"m":"8","p":10040},{"i":252,"m":"8","p":9360},{"i":254,"m":"8","p":8940},{"i":257,"m":"8","p":8790},{"i":260,"m":"8","p":8980},{"i":262,"m":"8","p":8940},{"i":264,"m":"8","p":9300},
      {"i":0,"m":"5","p":6280},{"i":2,"m":"5","p":6470},{"i":6,"m":"5","p":6890},{"i":11,"m":"5","p":6620},{"i":17,"m":"5","p":6700},{"i":20,"m":"5","p":6920},{"i":22,"m":"5","p":7230},{"i":24,"m":"5","p":7760},{"i":26,"m":"5","p":7840},{"i":29,"m":"5","p":7720},{"i":32,"m":"5","p":7680},{"i":35,"m":"5","p":7720},{"i":38,"m":"5","p":7650},{"i":41,"m":"5","p":7900},{"i":44,"m":"5","p":8030},{"i":46,"m":"5","p":8640},{"i":47,"m":"5","p":9430},{"i":49,"m":"5","p":9720},{"i":51,"m":"5","p":9430},{"i":53,"m":"5","p":9200},{"i":56,"m":"5","p":9200},{"i":62,"m":"5","p":9200},{"i":68,"m":"5","p":9130},{"i":71,"m":"5","p":9170},{"i":74,"m":"5","p":9320},{"i":76,"m":"5","p":9320},{"i":79,"m":"5","p":9160},{"i":82,"m":"5","p":8940},{"i":84,"m":"5","p":8880},{"i":87,"m":"5","p":9110},{"i":88,"m":"5","p":9160},{"i":90,"m":"5","p":9010},{"i":93,"m":"5","p":8830},{"i":96,"m":"5","p":8600},{"i":99,"m":"5","p":8370},{"i":102,"m":"5","p":8060},{"i":104,"m":"5","p":7900},{"i":106,"m":"5","p":8030},{"i":109,"m":"5","p":8000},{"i":112,"m":"5","p":7900},{"i":115,"m":"5","p":7950},{"i":118,"m":"5","p":8100},{"i":121,"m":"5","p":8100},{"i":124,"m":"5","p":8200},{"i":127,"m":"5","p":8310},{"i":130,"m":"5","p":8030},{"i":133,"m":"5","p":7840},{"i":136,"m":"5","p":7700},{"i":139,"m":"5","p":7720},{"i":142,"m":"5","p":7800},{"i":145,"m":"5","p":7730},{"i":148,"m":"5","p":7800},{"i":151,"m":"5","p":7810},{"i":154,"m":"5","p":7730},{"i":157,"m":"5","p":7760},{"i":160,"m":"5","p":7730},{"i":163,"m":"5","p":7650},{"i":166,"m":"5","p":7400},{"i":169,"m":"5","p":7290},{"i":172,"m":"5","p":7150},{"i":175,"m":"5","p":7290},{"i":178,"m":"5","p":7270},{"i":180,"m":"5","p":7190},{"i":183,"m":"5","p":7020},{"i":186,"m":"5","p":6990},{"i":189,"m":"5","p":7020},{"i":192,"m":"5","p":6890},{"i":194,"m":"5","p":6860},{"i":196,"m":"5","p":6620},{"i":198,"m":"5","p":6810},{"i":201,"m":"5","p":7170},{"i":204,"m":"5","p":7270},{"i":207,"m":"5","p":7230},{"i":210,"m":"5","p":7140},{"i":213,"m":"5","p":7150},{"i":216,"m":"5","p":7270},{"i":219,"m":"5","p":7340},{"i":225,"m":"5","p":7340},{"i":231,"m":"5","p":7370},{"i":233,"m":"5","p":7490},{"i":234,"m":"5","p":8060},{"i":236,"m":"5","p":9280},{"i":238,"m":"5","p":9890},{"i":240,"m":"5","p":10530},{"i":242,"m":"5","p":10950},{"i":244,"m":"5","p":11120},{"i":245,"m":"5","p":10870},{"i":247,"m":"5","p":10340},{"i":248,"m":"5","p":9730},{"i":250,"m":"5","p":9050},{"i":251,"m":"5","p":8760},{"i":254,"m":"5","p":8830},{"i":256,"m":"5","p":8940},{"i":258,"m":"5","p":8790},{"i":260,"m":"5","p":9090},{"i":262,"m":"5","p":9050},{"i":263,"m":"5","p":9000},{"i":264,"m":"5","p":9390}
    ],
    "notes": [
      {"k":"up","i":45,"p":10270,"t":"상"},
      {"k":"up","i":234,"p":9890,"t":"상"},
      {"k":"div","i":51,"p":9800,"t":"배당락(0.00%)"},
      {"k":"hi","i":242,"p":13400,"t":"최고13,400(2023/10/11),17.03%─┐"},
      {"k":"lo","i":193,"p":6210,"t":"최저6,210(2023/07/26),45.76%─┘"}
    ],
    "side": [
      {"i":264,"s":"r1","lo":9890,"hi":11710},
      {"i":264,"s":"r2","lo":9010,"hi":9890},
      {"i":264,"s":"b1","lo":8060,"hi":9010},
      {"i":264,"s":"b2","lo":6280,"hi":8060}
    ],
    "cur": [{"i":264,"p":11450,"t":"11,450","r":"27.22%"}]
  },
  "vconcat": [
    {
      "hconcat": [
        {
          "width": 100, "height": 23,
          "view": {"fill": "#d9e4f3", "stroke": null},
          "data": {"values": [{}]},
          "mark": {"type": "text", "text": ""},
          "title": {"text": "□ 위더스제약", "anchor": "start", "offset": -18, "dx": 2, "fontSize": 13, "fontWeight": "bold", "color": "#000000", "font": "Noto Sans CJK KR"}
        },
        {
          "width": 188, "height": 23,
          "view": {"fill": "#d9e4f3", "stroke": null},
          "data": {"values": [{}]},
          "mark": {"type": "text", "text": ""},
          "title": {"text": "11,450 ▲ 2,450 (27.22%)", "anchor": "start", "offset": -18, "dx": 5, "fontSize": 13.8, "fontWeight": "bold", "color": "#e00000", "font": "Noto Sans CJK KR"}
        },
        {
          "width": 712, "height": 23,
          "view": {"fill": "#d9e4f3", "stroke": null},
          "data": {"values": [{}]},
          "mark": {"type": "text", "text": ""},
          "title": {"text": "14,184,695 구분:KOSDAQ 상장수:13,192,778 시총:1,510억 PER:47.89 PBR:1.43 ROE:3.02 유보율:3,021.84", "anchor": "start", "offset": -18, "dx": 4, "fontSize": 13.8, "fontWeight": "bold", "color": "#000000", "font": "Noto Sans CJK KR"}
        },
        {
          "width": 567, "height": 23,
          "view": {"fill": "#d9e4f3", "stroke": null},
          "data": {"values": [{}]},
          "mark": {"type": "text", "text": ""},
          "title": {"text": "[1일] ▣ ☒", "anchor": "end", "offset": -18, "dx": -3, "fontSize": 12, "color": "#1d2b52", "font": "Noto Sans CJK KR"}
        }
      ],
      "spacing": 0
    },
    {
      "width": 1512,
      "height": 366,
      "encoding": {
        "x": {
          "field": "i", "type": "quantitative",
          "scale": {"domain": [-0.78, 272], "nice": false, "zero": false},
          "axis": {"values": [0, 10, 32, 53, 73, 93, 115, 135, 155, 176, 197, 219, 238, 257], "labels": false, "ticks": false, "grid": true, "domain": false, "title": null, "minExtent": 0, "maxExtent": 0}
        }
      },
      "layer": [
        {
          "data": {"name": "ma"},
          "mark": {"type": "line"},
          "encoding": {
            "y": {"field": "p", "type": "quantitative", "scale": {"domain": [5809, 14146], "nice": false, "zero": false},
                  "axis": {"orient": "right", "title": null, "values": [6000,6200,6400,6600,6800,7000,7200,7400,7600,7800,8000,8200,8400,8600,8800,9000,9200,9400,9600,9800,10000,10200,10400,10600,10800,11000,11200,11400,11600,11800,12000,12200,12400,12600,12800,13000,13200,13400,13600,13800,14000], "labelExpr": "datum.value % 1000 == 0 && datum.value >= 7000 && datum.value <= 13000 ? format(datum.value, ',') : ''", "grid": true, "gridOpacity": {"condition": {"test": "datum.value % 1000 == 0 && datum.value <= 13000", "value": 1}, "value": 0}}},
            "color": {
              "field": "m", "type": "nominal",
              "scale": {
                "domain": ["가격(수정)", "5", "8", "20", "45", "60", "120", "240", "락"],
                "range": ["#e60000", "#12dc12", "#ee0000", "#cc66cc", "#0000f0", "#6a9fd4", "#3cb0a0", "#7a2fd6", "#008a00"]
              },
              "legend": {
                "encode": {"labels": {"update": {"fill": {"signal": "datum.label == '가격(수정)' ? '#e00000' : datum.label == '5' ? '#00b400' : datum.label == '8' ? '#e00000' : datum.label == '20' ? '#c050c0' : datum.label == '45' ? '#0000e0' : datum.label == '60' ? '#5a8ccc' : datum.label == '120' ? '#22a090' : datum.label == '240' ? '#7020c8' : '#008000'"}}}},
                "orient": "top-left", "direction": "horizontal",
                "title": "■", "titleOrient": "left", "titleColor": "#8c9fbe", "titleFontSize": 11, "titlePadding": 5, "titleFontWeight": "normal",
                "offset": 2, "padding": 0, "columnPadding": 6,
                "symbolType": "M0,-1L0,1", "symbolSize": 50, "symbolStrokeWidth": 3.5,
                "labelFontSize": 12, "labelOffset": 1, "labelFont": "Noto Sans CJK KR", "labelLimit": 0
              }
            },
            "strokeWidth": {
              "field": "m", "type": "ordinal",
              "scale": {"domain": ["5", "8", "20", "45", "60", "120", "240"], "range": [1.2, 3, 1.2, 3, 1.3, 1.3, 3]},
              "legend": null
            }
          }
        },
        {
          "data": {"name": "px"},
          "mark": {"type": "rule", "strokeWidth": 1},
          "encoding": {
            "y": {"field": "l", "type": "quantitative", "scale": {"domain": [5809, 14146], "nice": false, "zero": false},
                  "axis": {"orient": "right", "title": null, "values": [6000,6200,6400,6600,6800,7000,7200,7400,7600,7800,8000,8200,8400,8600,8800,9000,9200,9400,9600,9800,10000,10200,10400,10600,10800,11000,11200,11400,11600,11800,12000,12200,12400,12600,12800,13000,13200,13400,13600,13800,14000], "labelExpr": "datum.value % 1000 == 0 && datum.value >= 7000 && datum.value <= 13000 ? format(datum.value, ',') : ''", "grid": true, "gridOpacity": {"condition": {"test": "datum.value % 1000 == 0 && datum.value <= 13000", "value": 1}, "value": 0}}},
            "y2": {"field": "h"},
            "color": {"field": "d", "type": "nominal", "scale": {"domain": ["u", "d", "n"], "range": ["#ee0000", "#2266cc", "#000000"]}, "legend": null}
          }
        },
        {
          "data": {"name": "px"},
          "mark": {"type": "bar", "width": 3.2},
          "encoding": {
            "y": {"field": "o", "type": "quantitative", "scale": {"domain": [5809, 14146], "nice": false, "zero": false},
                  "axis": {"orient": "right", "title": null, "values": [6000,6200,6400,6600,6800,7000,7200,7400,7600,7800,8000,8200,8400,8600,8800,9000,9200,9400,9600,9800,10000,10200,10400,10600,10800,11000,11200,11400,11600,11800,12000,12200,12400,12600,12800,13000,13200,13400,13600,13800,14000], "labelExpr": "datum.value % 1000 == 0 && datum.value >= 7000 && datum.value <= 13000 ? format(datum.value, ',') : ''", "grid": true, "gridOpacity": {"condition": {"test": "datum.value % 1000 == 0 && datum.value <= 13000", "value": 1}, "value": 0}}},
            "y2": {"field": "c"},
            "color": {"field": "d", "type": "nominal", "scale": {"domain": ["u", "d", "n"], "range": ["#ee0000", "#2266cc", "#000000"]}, "legend": null}
          }
        },
        {
          "data": {"name": "px"},
          "transform": [{"filter": "datum.d == 'n'"}],
          "mark": {"type": "tick", "orient": "horizontal", "color": "#000000", "thickness": 1, "size": 5},
          "encoding": {
            "y": {"field": "c", "type": "quantitative", "scale": {"domain": [5809, 14146], "nice": false, "zero": false},
                  "axis": {"orient": "right", "title": null, "values": [6000,6200,6400,6600,6800,7000,7200,7400,7600,7800,8000,8200,8400,8600,8800,9000,9200,9400,9600,9800,10000,10200,10400,10600,10800,11000,11200,11400,11600,11800,12000,12200,12400,12600,12800,13000,13200,13400,13600,13800,14000], "labelExpr": "datum.value % 1000 == 0 && datum.value >= 7000 && datum.value <= 13000 ? format(datum.value, ',') : ''", "grid": true, "gridOpacity": {"condition": {"test": "datum.value % 1000 == 0 && datum.value <= 13000", "value": 1}, "value": 0}}}
          }
        },
        {
          "data": {"name": "side"},
          "mark": {"type": "rule", "strokeWidth": 3, "xOffset": 44.8, "clip": false},
          "encoding": {
            "y": {"field": "lo", "type": "quantitative", "scale": {"domain": [5809, 14146], "nice": false, "zero": false},
                  "axis": {"orient": "right", "title": null, "values": [6000,6200,6400,6600,6800,7000,7200,7400,7600,7800,8000,8200,8400,8600,8800,9000,9200,9400,9600,9800,10000,10200,10400,10600,10800,11000,11200,11400,11600,11800,12000,12200,12400,12600,12800,13000,13200,13400,13600,13800,14000], "labelExpr": "datum.value % 1000 == 0 && datum.value >= 7000 && datum.value <= 13000 ? format(datum.value, ',') : ''", "grid": true, "gridOpacity": {"condition": {"test": "datum.value % 1000 == 0 && datum.value <= 13000", "value": 1}, "value": 0}}},
            "y2": {"field": "hi"},
            "color": {"field": "s", "type": "nominal", "scale": {"domain": ["r1", "r2", "b1", "b2"], "range": ["#e8101c", "#e46060", "#6c9be0", "#2862c8"]}, "legend": null}
          }
        },
        {
          "data": {"name": "notes"},
          "transform": [{"filter": "datum.k == 'up'"}],
          "mark": {"type": "text", "color": "#e00000", "fontSize": 11, "dy": -16, "baseline": "middle"},
          "encoding": {
            "y": {"field": "p", "type": "quantitative", "scale": {"domain": [5809, 14146], "nice": false, "zero": false},
                  "axis": {"orient": "right", "title": null, "values": [6000,6200,6400,6600,6800,7000,7200,7400,7600,7800,8000,8200,8400,8600,8800,9000,9200,9400,9600,9800,10000,10200,10400,10600,10800,11000,11200,11400,11600,11800,12000,12200,12400,12600,12800,13000,13200,13400,13600,13800,14000], "labelExpr": "datum.value % 1000 == 0 && datum.value >= 7000 && datum.value <= 13000 ? format(datum.value, ',') : ''", "grid": true, "gridOpacity": {"condition": {"test": "datum.value % 1000 == 0 && datum.value <= 13000", "value": 1}, "value": 0}}},
            "text": {"field": "t"}
          }
        },
        {
          "data": {"name": "notes"},
          "transform": [{"filter": "datum.k == 'up'"}],
          "mark": {"type": "point", "shape": "triangle-down", "filled": true, "color": "#e00000", "size": 14, "yOffset": -6, "opacity": 1},
          "encoding": {
            "y": {"field": "p", "type": "quantitative", "scale": {"domain": [5809, 14146], "nice": false, "zero": false},
                  "axis": {"orient": "right", "title": null, "values": [6000,6200,6400,6600,6800,7000,7200,7400,7600,7800,8000,8200,8400,8600,8800,9000,9200,9400,9600,9800,10000,10200,10400,10600,10800,11000,11200,11400,11600,11800,12000,12200,12400,12600,12800,13000,13200,13400,13600,13800,14000], "labelExpr": "datum.value % 1000 == 0 && datum.value >= 7000 && datum.value <= 13000 ? format(datum.value, ',') : ''", "grid": true, "gridOpacity": {"condition": {"test": "datum.value % 1000 == 0 && datum.value <= 13000", "value": 1}, "value": 0}}}
          }
        },
        {
          "data": {"name": "notes"},
          "transform": [{"filter": "datum.k == 'div'"}],
          "mark": {"type": "rule", "color": "#007a00", "strokeWidth": 1.3},
          "encoding": {
            "y": {"field": "p", "type": "quantitative", "scale": {"domain": [5809, 14146], "nice": false, "zero": false},
                  "axis": {"orient": "right", "title": null, "values": [6000,6200,6400,6600,6800,7000,7200,7400,7600,7800,8000,8200,8400,8600,8800,9000,9200,9400,9600,9800,10000,10200,10400,10600,10800,11000,11200,11400,11600,11800,12000,12200,12400,12600,12800,13000,13200,13400,13600,13800,14000], "labelExpr": "datum.value % 1000 == 0 && datum.value >= 7000 && datum.value <= 13000 ? format(datum.value, ',') : ''", "grid": true, "gridOpacity": {"condition": {"test": "datum.value % 1000 == 0 && datum.value <= 13000", "value": 1}, "value": 0}}},
            "y2": {"datum": 10750}
          }
        },
        {
          "data": {"name": "notes"},
          "transform": [{"filter": "datum.k == 'div'"}],
          "mark": {"type": "point", "shape": "triangle-down", "filled": true, "color": "#007a00", "size": 18, "yOffset": -2, "opacity": 1},
          "encoding": {
            "y": {"field": "p", "type": "quantitative", "scale": {"domain": [5809, 14146], "nice": false, "zero": false},
                  "axis": {"orient": "right", "title": null, "values": [6000,6200,6400,6600,6800,7000,7200,7400,7600,7800,8000,8200,8400,8600,8800,9000,9200,9400,9600,9800,10000,10200,10400,10600,10800,11000,11200,11400,11600,11800,12000,12200,12400,12600,12800,13000,13200,13400,13600,13800,14000], "labelExpr": "datum.value % 1000 == 0 && datum.value >= 7000 && datum.value <= 13000 ? format(datum.value, ',') : ''", "grid": true, "gridOpacity": {"condition": {"test": "datum.value % 1000 == 0 && datum.value <= 13000", "value": 1}, "value": 0}}}
          }
        },
        {
          "data": {"name": "notes"},
          "transform": [{"filter": "datum.k == 'div'"}],
          "mark": {"type": "text", "color": "#111111", "fontSize": 12, "align": "left", "baseline": "middle", "dx": 14},
          "encoding": {
            "y": {"datum": 10750, "type": "quantitative", "scale": {"domain": [5809, 14146], "nice": false, "zero": false},
                  "axis": {"orient": "right", "title": null, "values": [6000,6200,6400,6600,6800,7000,7200,7400,7600,7800,8000,8200,8400,8600,8800,9000,9200,9400,9600,9800,10000,10200,10400,10600,10800,11000,11200,11400,11600,11800,12000,12200,12400,12600,12800,13000,13200,13400,13600,13800,14000], "labelExpr": "datum.value % 1000 == 0 && datum.value >= 7000 && datum.value <= 13000 ? format(datum.value, ',') : ''", "grid": true, "gridOpacity": {"condition": {"test": "datum.value % 1000 == 0 && datum.value <= 13000", "value": 1}, "value": 0}}},
            "text": {"field": "t"}
          }
        },
        {
          "data": {"name": "notes"},
          "transform": [{"filter": "datum.k == 'hi'"}],
          "mark": {"type": "text", "color": "#e00000", "fontSize": 12, "align": "right", "baseline": "middle", "dx": 6, "dy": -13},
          "encoding": {
            "y": {"field": "p", "type": "quantitative", "scale": {"domain": [5809, 14146], "nice": false, "zero": false},
                  "axis": {"orient": "right", "title": null, "values": [6000,6200,6400,6600,6800,7000,7200,7400,7600,7800,8000,8200,8400,8600,8800,9000,9200,9400,9600,9800,10000,10200,10400,10600,10800,11000,11200,11400,11600,11800,12000,12200,12400,12600,12800,13000,13200,13400,13600,13800,14000], "labelExpr": "datum.value % 1000 == 0 && datum.value >= 7000 && datum.value <= 13000 ? format(datum.value, ',') : ''", "grid": true, "gridOpacity": {"condition": {"test": "datum.value % 1000 == 0 && datum.value <= 13000", "value": 1}, "value": 0}}},
            "text": {"field": "t"}
          }
        },
        {
          "data": {"name": "notes"},
          "transform": [{"filter": "datum.k == 'lo'"}],
          "mark": {"type": "text", "color": "#1a2f80", "fontSize": 12, "align": "right", "baseline": "middle", "dx": 6, "dy": 9},
          "encoding": {
            "y": {"field": "p", "type": "quantitative", "scale": {"domain": [5809, 14146], "nice": false, "zero": false},
                  "axis": {"orient": "right", "title": null, "values": [6000,6200,6400,6600,6800,7000,7200,7400,7600,7800,8000,8200,8400,8600,8800,9000,9200,9400,9600,9800,10000,10200,10400,10600,10800,11000,11200,11400,11600,11800,12000,12200,12400,12600,12800,13000,13200,13400,13600,13800,14000], "labelExpr": "datum.value % 1000 == 0 && datum.value >= 7000 && datum.value <= 13000 ? format(datum.value, ',') : ''", "grid": true, "gridOpacity": {"condition": {"test": "datum.value % 1000 == 0 && datum.value <= 13000", "value": 1}, "value": 0}}},
            "text": {"field": "t"}
          }
        },
        {
          "data": {"name": "cur"},
          "mark": {"type": "rect", "color": "#e8101c", "xOffset": 58.5, "x2Offset": 95.5, "clip": false},
          "encoding": {
            "x2": {"field": "i"},
            "y": {"datum": 11640, "type": "quantitative", "scale": {"domain": [5809, 14146], "nice": false, "zero": false},
                  "axis": {"orient": "right", "title": null, "values": [6000,6200,6400,6600,6800,7000,7200,7400,7600,7800,8000,8200,8400,8600,8800,9000,9200,9400,9600,9800,10000,10200,10400,10600,10800,11000,11200,11400,11600,11800,12000,12200,12400,12600,12800,13000,13200,13400,13600,13800,14000], "labelExpr": "datum.value % 1000 == 0 && datum.value >= 7000 && datum.value <= 13000 ? format(datum.value, ',') : ''", "grid": true, "gridOpacity": {"condition": {"test": "datum.value % 1000 == 0 && datum.value <= 13000", "value": 1}, "value": 0}}},
            "y2": {"datum": 11320}
          }
        },
        {
          "data": {"name": "cur"},
          "mark": {"type": "rect", "color": "#ffffff", "xOffset": 58.5, "x2Offset": 95.5, "clip": false},
          "encoding": {
            "x2": {"field": "i"},
            "y": {"datum": 11310, "type": "quantitative", "scale": {"domain": [5809, 14146], "nice": false, "zero": false},
                  "axis": {"orient": "right", "title": null, "values": [6000,6200,6400,6600,6800,7000,7200,7400,7600,7800,8000,8200,8400,8600,8800,9000,9200,9400,9600,9800,10000,10200,10400,10600,10800,11000,11200,11400,11600,11800,12000,12200,12400,12600,12800,13000,13200,13400,13600,13800,14000], "labelExpr": "datum.value % 1000 == 0 && datum.value >= 7000 && datum.value <= 13000 ? format(datum.value, ',') : ''", "grid": true, "gridOpacity": {"condition": {"test": "datum.value % 1000 == 0 && datum.value <= 13000", "value": 1}, "value": 0}}},
            "y2": {"datum": 11040}
          }
        },
        {
          "data": {"name": "cur"},
          "mark": {"type": "text", "color": "#ffffff", "font": "Liberation Sans", "fontSize": 12.5, "align": "right", "baseline": "middle", "dx": 95, "clip": false},
          "encoding": {
            "y": {"field": "p", "type": "quantitative", "scale": {"domain": [5809, 14146], "nice": false, "zero": false},
                  "axis": {"orient": "right", "title": null, "values": [6000,6200,6400,6600,6800,7000,7200,7400,7600,7800,8000,8200,8400,8600,8800,9000,9200,9400,9600,9800,10000,10200,10400,10600,10800,11000,11200,11400,11600,11800,12000,12200,12400,12600,12800,13000,13200,13400,13600,13800,14000], "labelExpr": "datum.value % 1000 == 0 && datum.value >= 7000 && datum.value <= 13000 ? format(datum.value, ',') : ''", "grid": true, "gridOpacity": {"condition": {"test": "datum.value % 1000 == 0 && datum.value <= 13000", "value": 1}, "value": 0}}},
            "text": {"field": "t"}
          }
        },
        {
          "data": {"name": "cur"},
          "mark": {"type": "text", "color": "#e00000", "font": "Liberation Sans", "fontSize": 12.5, "align": "right", "baseline": "middle", "dx": 95, "clip": false},
          "encoding": {
            "y": {"datum": 11175, "type": "quantitative", "scale": {"domain": [5809, 14146], "nice": false, "zero": false},
                  "axis": {"orient": "right", "title": null, "values": [6000,6200,6400,6600,6800,7000,7200,7400,7600,7800,8000,8200,8400,8600,8800,9000,9200,9400,9600,9800,10000,10200,10400,10600,10800,11000,11200,11400,11600,11800,12000,12200,12400,12600,12800,13000,13200,13400,13600,13800,14000], "labelExpr": "datum.value % 1000 == 0 && datum.value >= 7000 && datum.value <= 13000 ? format(datum.value, ',') : ''", "grid": true, "gridOpacity": {"condition": {"test": "datum.value % 1000 == 0 && datum.value <= 13000", "value": 1}, "value": 0}}},
            "text": {"field": "r"}
          }
        },
        {
          "data": {"name": "cur"},
          "mark": {"type": "point", "shape": "triangle-left", "filled": true, "color": "#e00000", "size": 45, "opacity": 1, "xOffset": 49, "clip": false},
          "encoding": {
            "y": {"field": "p", "type": "quantitative", "scale": {"domain": [5809, 14146], "nice": false, "zero": false},
                  "axis": {"orient": "right", "title": null, "values": [6000,6200,6400,6600,6800,7000,7200,7400,7600,7800,8000,8200,8400,8600,8800,9000,9200,9400,9600,9800,10000,10200,10400,10600,10800,11000,11200,11400,11600,11800,12000,12200,12400,12600,12800,13000,13200,13400,13600,13800,14000], "labelExpr": "datum.value % 1000 == 0 && datum.value >= 7000 && datum.value <= 13000 ? format(datum.value, ',') : ''", "grid": true, "gridOpacity": {"condition": {"test": "datum.value % 1000 == 0 && datum.value <= 13000", "value": 1}, "value": 0}}}
          }
        }
      ],
      "resolve": {"scale": {"color": "independent", "strokeWidth": "independent"}}
    },
    {
      "width": 1512,
      "height": 95,
      "title": {"text": "▮거래량", "anchor": "start", "offset": -20, "dx": 12, "color": "#b3a52a", "fontSize": 12, "fontWeight": "normal", "font": "Noto Sans CJK KR"},
      "data": {"name": "px"},
      "mark": {"type": "bar", "width": 3},
      "encoding": {
        "x": {
          "field": "i", "type": "quantitative",
          "scale": {"domain": [-0.78, 272], "nice": false, "zero": false},
          "axis": {"values": [0, 10, 32, 53, 73, 93, 115, 135, 155, 176, 197, 219, 238, 257], "labels": false, "ticks": false, "grid": true, "domain": false, "title": null, "minExtent": 0, "maxExtent": 0}
        },
        "y": {
          "field": "v", "type": "quantitative",
          "scale": {"domain": [0, 233400], "nice": false},
          "axis": {
            "orient": "right", "title": null,
            "values": [22000, 41000, 61000, 100000, 134000, 150000, 172000],
            "labelExpr": "datum.value == 100000 ? '100,000' : datum.value == 22000 ? '× 100' : ''",
            "grid": true,
            "gridOpacity": {"condition": {"test": "datum.value == 100000", "value": 1}, "value": 0}
          }
        },
        "color": {"field": "d", "type": "nominal", "scale": {"domain": ["u", "d", "n"], "range": ["#ee0000", "#2266cc", "#000000"]}, "legend": null}
      }
    },
    {
      "width": 1512,
      "height": 122,
      "title": {"text": "▮외국인보유비중", "anchor": "start", "offset": -20, "dx": 12, "color": "#ff7878", "fontSize": 12, "fontWeight": "normal", "font": "Noto Sans CJK KR"},
      "data": {"name": "px"},
      "mark": {"type": "bar", "width": 3.2, "color": "#ff8080"},
      "encoding": {
        "x": {
          "field": "i", "type": "quantitative",
          "scale": {"domain": [-0.78, 272], "nice": false, "zero": false},
          "axis": {
            "values": [0, 10, 32, 53, 73, 93, 115, 135, 155, 176, 197, 219, 238, 257],
            "labelExpr": "['2022/10/18','','12','2023/01','02','03','04','05','06','07','08','09','10','11'][indexof([0,10,32,53,73,93,115,135,155,176,197,219,238,257], datum.value)]",
            "tickSize": 5,
            "tickOpacity": {"condition": {"test": "datum.value == 10", "value": 0}, "value": 1},
            "labelAlign": "left", "labelBaseline": "top", "labelPadding": 0, "labelOffset": 1, "labelFontSize": 12.5,
            "labelFlush": false, "labelOverlap": false, "labelBound": false,
            "grid": true, "domain": false, "title": null
          }
        },
        "y": {
          "field": "f", "type": "quantitative",
          "scale": {"domain": [0, 3.57], "nice": false},
          "axis": {"orient": "right", "title": null, "values": [1, 2, 3], "format": ".2f", "grid": true}
        }
      }
    }
  ],
  "resolve": {"scale": {"x": "independent", "y": "independent", "color": "independent"}}
}
